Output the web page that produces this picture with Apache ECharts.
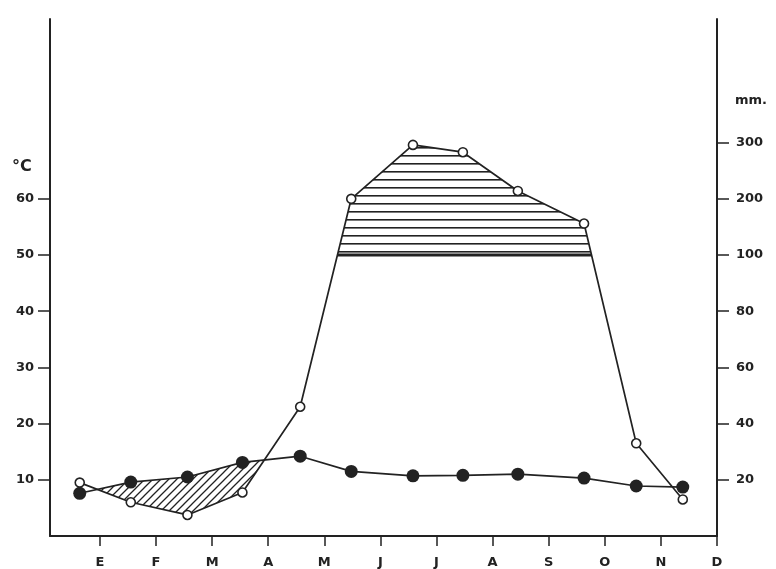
<!DOCTYPE html>
<html>
<head>
<meta charset="utf-8">
<title>Climograma</title>
<script src="https://cdn.jsdelivr.net/npm/echarts@6/dist/echarts.min.js"></script>
<style>
	html, body { margin: 0; padding: 0; background: #fff; }
	#chart { width: 776px; height: 569px; }
</style>
</head>
<body>
<div id="chart"></div>
<script>
	// meses (etiquetas en las marcas del eje) y posicion de cada punto mensual
	var monthLabels = ['E', 'F', 'M', 'A', 'M', 'J', 'J', 'A', 'S', 'O', 'N', 'D'];
	var monthX = [0.64, 1.55, 2.56, 3.54, 4.57, 5.48, 6.58, 7.47, 8.45, 9.63, 10.56, 11.39];

	// temperatura media (°C) y precipitacion (mm)
	var tempC = [7.6, 9.6, 10.5, 13.1, 14.2, 11.5, 10.7, 10.8, 11.0, 10.3, 8.9, 8.7];
	var precipMm = [19, 12, 7.5, 15.5, 46, 200, 296, 283, 214, 156, 33, 13];

	var tempTicks = [10, 20, 30, 40, 50, 60];
	var mmTicks = [20, 40, 60, 80, 100, 200, 300];

	var ink = '#222';
	var labelFont = 'DejaVu Sans';

	// escala de Walter: 20 mm = 10 °C hasta 100 mm, despues 100 mm = 10 °C
	function mmToScale(mm){
		return mm <= 100 ? mm / 2 : 50 + (mm - 100) / 10;
	}
	function scaleToMm(v){
		return v <= 50 ? v * 2 : 100 + (v - 50) * 10;
	}

	var precipScaled = precipMm.map(mmToScale);

	function pairs(xs, ys){
		var arr = [];
		for(var i=0; i<xs.length; i++){
			arr.push([xs[i], ys[i]]);
		}
		return arr;
	}

	// tramos donde top > bottom, cortando en los cruces de las dos curvas
	function regionsAbove(xs, top, bottom){
		var out = [];
		var upper = null, lower = null;
		for(var i=0; i<xs.length; i++){
			var d = top[i] - bottom[i];
			if(i > 0){
				var dp = top[i-1] - bottom[i-1];
				if((dp > 0) !== (d > 0)){
					var t = dp / (dp - d);
					var cx = xs[i-1] + t * (xs[i] - xs[i-1]);
					var cy = bottom[i-1] + t * (bottom[i] - bottom[i-1]);
					if(upper){
						upper.push([cx, cy]);
						lower.push([cx, cy]);
						out.push({upper: upper, lower: lower});
						upper = null;
						lower = null;
					}else{
						upper = [[cx, cy]];
						lower = [[cx, cy]];
					}
				}
			}
			if(d > 0){
				if(!upper){ upper = []; lower = []; }
				upper.push([xs[i], top[i]]);
				lower.push([xs[i], bottom[i]]);
			}
		}
		if(upper){
			out.push({upper: upper, lower: lower});
		}
		return out;
	}

	var limit = monthX.map(function(){ return 50; });
	var humidRegions = regionsAbove(monthX, precipScaled, limit);
	// periodo seco solo de enero a mayo
	var dryRegions = regionsAbove(monthX.slice(0, 5), tempC.slice(0, 5), precipScaled.slice(0, 5));

	function hatchHorizontal(){
		var c = document.createElement('canvas');
		c.width = 8; c.height = 8;
		var g = c.getContext('2d');
		g.fillStyle = ink;
		g.fillRect(0, 3, 8, 1);
		g.globalAlpha = 0.6;
		g.fillRect(0, 4, 8, 1);
		return c;
	}

	function hatchDiagonal(){
		var c = document.createElement('canvas');
		c.width = 8; c.height = 8;
		var g = c.getContext('2d');
		g.strokeStyle = ink;
		g.lineWidth = 1.3;
		g.beginPath();
		g.moveTo(0, 8); g.lineTo(8, 0);
		g.moveTo(-1, 1); g.lineTo(1, -1);
		g.moveTo(7, 9); g.lineTo(9, 7);
		g.stroke();
		return c;
	}

	var hFill = {image: hatchHorizontal(), repeat: 'repeat'};
	var dFill = {image: hatchDiagonal(), repeat: 'repeat'};

	function renderHatch(params, api){
		var children = [];
		function toPx(p){ return api.coord(p); }
		humidRegions.forEach(function(r){
			var pts = r.upper.concat(r.lower.slice().reverse()).map(toPx);
			children.push({type: 'polygon', shape: {points: pts}, style: {fill: hFill, stroke: null}});
			children.push({type: 'polyline', shape: {points: r.lower.map(toPx)}, style: {fill: null, stroke: ink, lineWidth: 3}});
		});
		dryRegions.forEach(function(r){
			var pts = r.upper.concat(r.lower.slice().reverse()).map(toPx);
			children.push({type: 'polygon', shape: {points: pts}, style: {fill: dFill, stroke: null}});
		});
		return {type: 'group', children: children};
	}

	var chart = echarts.init(document.getElementById('chart'), null, {renderer: 'canvas'});

	var option = {
		backgroundColor: '#fff',
		animation: false,
		grid: {
			left: 50,
			right: 59,
			top: 19,
			bottom: 32
		},
		xAxis: {
			type: 'value',
			min: 0.11,
			max: 12,
			axisLine: {show: true, onZero: false, lineStyle: {color: ink, width: 2}},
			axisTick: {
				show: true,
				length: 10,
				customValues: [1, 2, 3, 4, 5, 6, 7, 8, 9, 10, 11, 12],
				lineStyle: {color: ink, width: 1.5}
			},
			axisLabel: {
				customValues: [1, 2, 3, 4, 5, 6, 7, 8, 9, 10, 11, 12],
				formatter: function(v){ return monthLabels[Math.round(v) - 1] || ''; },
				margin: 20,
				color: ink,
				fontFamily: labelFont,
				fontWeight: 'bold',
				fontSize: 13
			},
			splitLine: {show: false}
		},
		yAxis: [
			{
				type: 'value',
				position: 'left',
				min: 0,
				max: 92,
				axisLine: {show: true, lineStyle: {color: ink, width: 2}},
				axisTick: {show: true, length: 12, customValues: tempTicks, lineStyle: {color: ink, width: 1.5}},
				axisLabel: {
					customValues: tempTicks,
					margin: 16,
					color: ink,
					fontFamily: labelFont,
					fontWeight: 'bold',
					fontSize: 13
				},
				splitLine: {show: false}
			},
			{
				type: 'value',
				position: 'right',
				min: 0,
				max: 92,
				axisLine: {show: true, lineStyle: {color: ink, width: 2}},
				axisTick: {show: true, length: 12, customValues: mmTicks.map(mmToScale), lineStyle: {color: ink, width: 1.5}},
				axisLabel: {
					customValues: mmTicks.map(mmToScale),
					formatter: function(v){ return String(Math.round(scaleToMm(v))); },
					margin: 19,
					color: ink,
					fontFamily: labelFont,
					fontWeight: 'bold',
					fontSize: 13
				},
				splitLine: {show: false}
			}
		],
		graphic: [
			{type: 'text', left: 12, top: 159, style: {text: '°C', fill: ink, font: 'bold 16px DejaVu Sans'}},
			{type: 'text', left: 735, top: 94, style: {text: 'mm.', fill: ink, font: 'bold 13px DejaVu Sans'}}
		],
		series: [
			{
				name: 'hatch',
				type: 'custom',
				silent: true,
				z: 1,
				data: [0],
				renderItem: renderHatch
			},
			{
				name: 'precipitacion',
				type: 'line',
				z: 3,
				data: pairs(monthX, precipScaled),
				symbol: 'circle',
				symbolSize: 9,
				lineStyle: {color: ink, width: 1.7},
				itemStyle: {color: '#fff', borderColor: ink, borderWidth: 1.6}
			},
			{
				name: 'temperatura',
				type: 'line',
				z: 2,
				data: pairs(monthX, tempC),
				symbol: 'circle',
				symbolSize: 13,
				lineStyle: {color: ink, width: 1.7},
				itemStyle: {color: ink}
			}
		]
	};

	chart.setOption(option, true);
</script>
</body>
</html>
